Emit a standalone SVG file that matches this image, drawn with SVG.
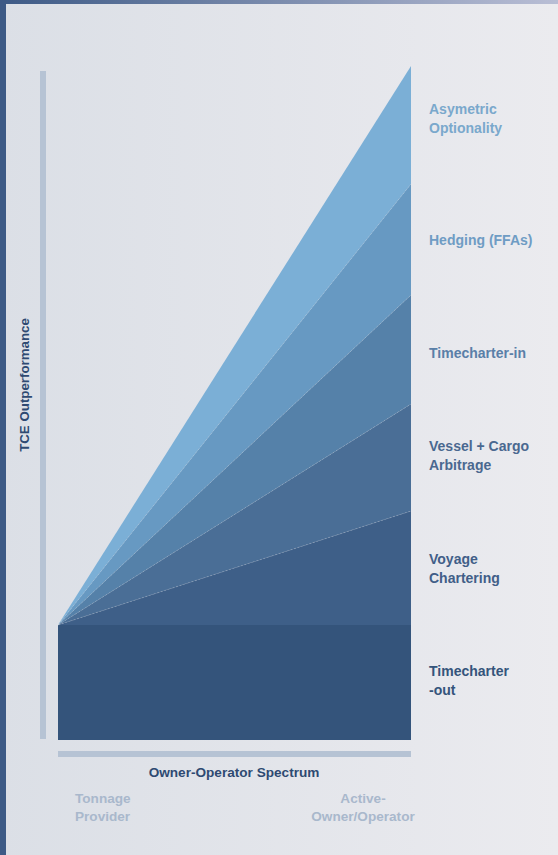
<svg xmlns="http://www.w3.org/2000/svg" width="558" height="855" viewBox="0 0 558 855">
<defs>
<linearGradient id="bg" x1="0" y1="0" x2="1" y2="0"><stop offset="0" stop-color="#dbdfe6"/><stop offset="1" stop-color="#ebebef"/></linearGradient>
<linearGradient id="top" x1="0" y1="0" x2="1" y2="0"><stop offset="0" stop-color="#3d5a86"/><stop offset="1" stop-color="#b9bed5"/></linearGradient>
<style>
.lbl{font-family:"Liberation Sans",Arial,sans-serif;font-weight:bold;font-size:14px}
.ax{font-family:"Liberation Sans",Arial,sans-serif;font-weight:bold;font-size:13.6px;fill:#2e4a72}
.end{font-family:"Liberation Sans",Arial,sans-serif;font-weight:bold;font-size:13.6px;fill:#a9b8cc}
.sep{stroke:#ffffff;stroke-opacity:0.25;stroke-width:0.7;stroke-dasharray:2 2;fill:none}
</style>
</defs>
<rect x="0" y="0" width="558" height="855" fill="url(#bg)"/>
<rect x="0" y="0" width="558" height="4" fill="url(#top)"/>
<rect x="0" y="0" width="6" height="855" fill="#3d5a86"/>
<g id="axes">
<rect x="40" y="71" width="6" height="668" fill="#b6c3d4"/>
<rect x="58" y="751" width="353" height="6" fill="#b6c3d4"/>
<text class="ax" transform="translate(29,385) rotate(-90)" text-anchor="middle" style="font-size:13.3px">TCE Outperformance</text>
<text class="ax" x="234" y="777" text-anchor="middle">Owner-Operator Spectrum</text>
<text class="end" x="75" y="803">Tonnage</text>
<text class="end" x="75" y="821">Provider</text>
<text class="end" x="363" y="803" text-anchor="middle">Active-</text>
<text class="end" x="363" y="821" text-anchor="middle">Owner/Operator</text>
</g>
<g id="layer-asymetric"><polygon points="58,625 411,66 411,184" fill="#7bafd6"/>
<text class="lbl" fill="#7aa8cc" x="429" y="114">Asymetric</text><text class="lbl" fill="#7aa8cc" x="429" y="133">Optionality</text></g>
<g id="layer-hedging"><polygon points="58,625 411,184 411,295" fill="#6799c2"/>
<text class="lbl" fill="#6f9cc4" x="429" y="245">Hedging (FFAs)</text></g>
<g id="layer-tcin"><polygon points="58,625 411,295 411,404" fill="#5581a9"/>
<text class="lbl" fill="#5a7fa8" x="429" y="358">Timecharter-in</text></g>
<g id="layer-arbitrage"><polygon points="58,625 411,404 411,511" fill="#4a6e96"/>
<text class="lbl" fill="#4a6890" x="429" y="451">Vessel + Cargo</text><text class="lbl" fill="#4a6890" x="429" y="470">Arbitrage</text></g>
<g id="layer-voyage"><polygon points="58,625 411,511 411,625" fill="#3e5f88"/>
<text class="lbl" fill="#415e88" x="429" y="564">Voyage</text><text class="lbl" fill="#415e88" x="429" y="583">Chartering</text></g>
<g id="layer-tcout"><rect x="58" y="625" width="353" height="115" fill="#34547b"/>
<text class="lbl" fill="#34547b" x="429" y="676">Timecharter</text><text class="lbl" fill="#34547b" x="429" y="695">-out</text></g>
<g id="connectors">
<line class="sep" x1="58" y1="625" x2="411" y2="184"/>
<line class="sep" x1="58" y1="625" x2="411" y2="295"/>
<line class="sep" x1="58" y1="625" x2="411" y2="404"/>
<line class="sep" x1="58" y1="625" x2="411" y2="511"/>
</g>
</svg>
